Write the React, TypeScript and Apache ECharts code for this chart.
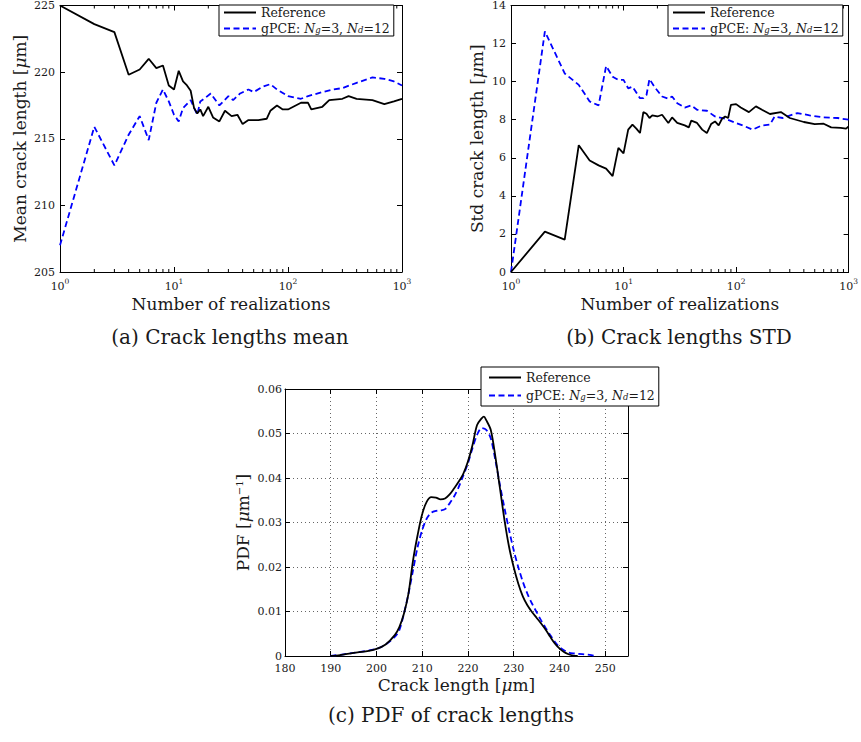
import React, { useEffect, useRef } from 'react';
import * as echarts from 'echarts';

// ---------- data ----------
const meanRefN = [1, 2, 3, 4, 5, 6, 7, 8, 9, 10, 11, 12, 13, 14, 15, 16, 17, 18, 20, 22, 25, 28, 32, 36, 40, 45, 55, 65, 70, 80, 90, 100, 130, 150, 160, 200, 230, 300, 340, 400, 550, 700, 850, 1000];
const meanRef = [225.0, 223.6, 223.0, 219.8, 220.2, 221.0, 220.3, 220.5, 219.0, 218.7, 220.1, 219.3, 219.0, 218.6, 217.3, 216.9, 217.2, 216.7, 217.4, 216.6, 216.3, 217.1, 216.7, 216.8, 216.1, 216.4, 216.4, 216.5, 217.1, 217.5, 217.2, 217.2, 217.7, 217.7, 217.2, 217.4, 217.9, 218.0, 218.2, 218.0, 217.9, 217.6, 217.8, 218.0];

const meanGpceN = [1, 2, 3, 4, 5, 6, 7, 8, 9, 10, 11, 12, 14, 16, 17, 19, 21, 25, 30, 33, 38, 45, 50, 60, 70, 80, 100, 130, 150, 200, 250, 300, 400, 550, 700, 850, 1000];
const meanGpce = [207.0, 215.9, 213.0, 215.3, 216.7, 214.9, 217.7, 218.7, 217.8, 216.8, 216.3, 217.3, 217.9, 216.8, 217.8, 218.1, 218.4, 217.5, 218.2, 217.9, 218.4, 218.7, 218.5, 218.9, 219.1, 218.7, 218.2, 218.0, 218.2, 218.5, 218.7, 218.8, 219.2, 219.6, 219.5, 219.3, 219.0];

const stdRefN = [1, 2, 3, 4, 5, 6, 7, 8, 9, 10, 11, 12, 13, 14, 15, 16, 17, 18, 20, 22, 25, 27, 30, 35, 38, 40, 45, 50, 55, 60, 65, 70, 75, 80, 85, 90, 100, 110, 130, 150, 170, 200, 250, 300, 400, 500, 600, 700, 850, 950, 1000];
const stdRef = [0, 2.12, 1.70, 6.66, 5.86, 5.60, 5.43, 5.04, 6.52, 6.23, 7.48, 7.74, 7.53, 7.30, 8.40, 8.31, 8.09, 8.23, 8.17, 8.26, 7.83, 8.12, 7.83, 7.70, 7.60, 7.95, 7.83, 7.48, 7.30, 7.77, 7.91, 7.70, 8.05, 8.17, 8.09, 8.78, 8.82, 8.64, 8.40, 8.70, 8.52, 8.30, 8.40, 8.09, 7.88, 7.77, 7.79, 7.60, 7.57, 7.53, 7.65];

const stdGpceN = [1, 2, 3, 4, 5, 6, 7, 8, 9, 10, 11, 12, 14, 15, 16, 17, 19, 22, 25, 27, 30, 35, 40, 45, 55, 65, 80, 100, 120, 140, 170, 200, 220, 260, 350, 450, 600, 800, 1000];
const stdGpce = [0, 12.64, 10.43, 9.83, 8.96, 8.75, 10.82, 10.26, 10.09, 10.09, 9.65, 9.74, 9.13, 9.13, 9.30, 10.14, 9.69, 9.22, 9.10, 9.22, 8.87, 8.64, 8.75, 8.52, 8.47, 8.17, 8.05, 7.83, 7.65, 7.48, 7.70, 7.74, 8.17, 8.09, 8.35, 8.23, 8.12, 8.09, 8.00];

const pdfRefX = [190, 192, 195, 198, 200, 202, 204, 205, 206, 207, 208, 209, 210, 211, 212, 213, 214, 215, 216, 217, 218, 219, 220, 221, 222, 223, 223.5, 224, 225, 226, 227, 228, 229, 230, 231, 232, 233, 234, 235, 236, 237, 238, 239, 240, 241, 242, 243, 244];
const pdfRef = [0, 0.0002, 0.0007, 0.0011, 0.0016, 0.0026, 0.0047, 0.0065, 0.0095, 0.014, 0.0215, 0.0272, 0.0319, 0.0347, 0.0357, 0.0356, 0.0352, 0.0354, 0.0363, 0.0377, 0.0392, 0.0410, 0.0437, 0.0474, 0.0519, 0.0534, 0.0538, 0.0530, 0.0508, 0.0448, 0.0377, 0.0305, 0.0245, 0.0200, 0.0163, 0.0134, 0.0114, 0.0099, 0.0086, 0.0073, 0.0059, 0.0043, 0.0028, 0.0017, 0.0009, 0.0004, 0.0001, 0];

const pdfGpceX = [190, 195, 200, 202, 204, 205, 206, 207, 208, 209, 210, 211, 212, 213, 214, 215, 216, 217, 218, 219, 220, 221, 222, 223, 224, 225, 226, 227, 228, 229, 230, 231, 232, 233, 234, 235, 236, 237, 238, 239, 240, 241, 242, 243, 245, 247, 248];
const pdfGpce = [0, 0.0007, 0.0016, 0.0026, 0.0043, 0.0058, 0.0095, 0.014, 0.0193, 0.0245, 0.0283, 0.0309, 0.0322, 0.0326, 0.0327, 0.033, 0.0343, 0.0359, 0.038, 0.0406, 0.0433, 0.0467, 0.0497, 0.0512, 0.0508, 0.0489, 0.044, 0.0384, 0.0332, 0.0283, 0.0238, 0.020, 0.0167, 0.014, 0.0118, 0.0099, 0.008, 0.0063, 0.0047, 0.0032, 0.002, 0.0013, 0.0008, 0.0006, 0.0004, 0.0002, 0];

const logMinorTicks = [2, 3, 4, 5, 6, 7, 8, 9, 20, 30, 40, 50, 60, 70, 80, 90, 200, 300, 400, 500, 600, 700, 800, 900];
const captions = ['(a) Crack lengths mean', '(b) Crack lengths STD', '(c) PDF of crack lengths'];
const seriesNames = ['Reference', 'gPCE'];

// ---------- styles ----------
const FONT = "'DejaVu Serif', 'Liberation Serif', serif";
const TXT = '#1a1a1a';
const BLUE = '#0000ff';

const zip = (xs: number[], ys: number[]) => xs.map((x, i) => [x, ys[i]]);

const logLabel = (v: number) => `{b|10}{s|${Math.round(Math.log10(v))}}`;
const logRich = {
  b: { fontFamily: FONT, fontSize: 11, color: TXT, lineHeight: 15, verticalAlign: 'bottom' },
  s: { fontFamily: FONT, fontSize: 7.5, color: TXT, lineHeight: 9, verticalAlign: 'top' },
};

const axisLine = { show: true, onZero: false, lineStyle: { color: '#000', width: 1 } };
const tick = { show: true, inside: true, length: 5, lineStyle: { color: '#000', width: 1 } };
const tickLabel = { fontFamily: FONT, fontSize: 11, color: TXT, lineHeight: 11 };
const NAME_SIZE = 17;
const nameStyle = {
  fontFamily: FONT, fontSize: NAME_SIZE, color: TXT,
  rich: {
    i: { fontFamily: FONT, fontSize: NAME_SIZE, fontStyle: 'italic', color: TXT },
    sup: { fontFamily: FONT, fontSize: 10, color: TXT, verticalAlign: 'top', lineHeight: 10 },
  },
};

const LEG_SIZE = 12.5;
const legendRich = {
  r: { fontFamily: FONT, fontSize: LEG_SIZE, color: TXT, lineHeight: 12 },
  i: { fontFamily: FONT, fontSize: LEG_SIZE, fontStyle: 'italic', color: TXT, lineHeight: 12 },
  s: { fontFamily: FONT, fontSize: 8.5, fontStyle: 'italic', color: TXT, lineHeight: 8, verticalAlign: 'bottom' },
};
const legendFmt = (name: string) =>
  name === 'Reference' ? '{r|Reference}' : '{r|gPCE: }{i|N}{s|g}{r|=3, }{i|N}{s|d}{r|=12}';

const makeLegend = (left: number, top: number, itemGap: number, padding: number[]) => ({
  left, top, orient: 'vertical', itemWidth: 32, itemHeight: 12, itemGap, padding,
  borderColor: '#000', borderWidth: 1, backgroundColor: '#fff', borderRadius: 0,
  itemStyle: { opacity: 0 },
  data: seriesNames, formatter: legendFmt, selectedMode: false,
  textStyle: { fontFamily: FONT, fontSize: LEG_SIZE, color: TXT, rich: legendRich },
  z: 10,
});

const lineRef = { color: '#000', width: 1.8, type: 'solid' };
const lineGpce = { color: BLUE, width: 1.8, type: [6, 3.5] };

export default function App() {
  const ref = useRef<HTMLDivElement>(null);
  useEffect(() => {
    if (!ref.current) return;
    const chart = echarts.init(ref.current, undefined, { renderer: 'svg' });
    const grids = [
      { left: 60, top: 3, width: 342, height: 269 },
      { left: 511, top: 3, width: 342, height: 269 },
      { left: 285, top: 389, width: 343, height: 267 },
    ];
    const logX = (gi: number, pos: 'bottom' | 'top', withLabel: boolean) => ({
      type: 'log', logBase: 10, gridIndex: gi, min: 1, max: 1000, position: pos,
      axisLine, axisTick: tick, splitLine: { show: false },
      axisLabel: withLabel ? { formatter: logLabel, rich: logRich, margin: 5 } : { show: false },
      ...(withLabel ? { name: 'Number of realizations', nameLocation: 'middle', nameGap: 23, nameTextStyle: nameStyle } : {}),
    });
    const option: any = {
      animation: false,
      backgroundColor: '#fff',
      grid: grids,
      xAxis: [
        logX(0, 'bottom', true),
        logX(0, 'top', false),
        logX(1, 'bottom', true),
        logX(1, 'top', false),
        {
          type: 'value', gridIndex: 2, min: 180, max: 255, interval: 10, position: 'bottom',
          axisLine, axisTick: tick,
          axisLabel: { ...tickLabel, margin: 7, formatter: (v: number) => (v === 255 ? '' : String(v)) },
          splitLine: { show: true, lineStyle: { color: '#666', type: [1, 3], width: 1 } },
          name: 'Crack length [{i|μ}m]', nameLocation: 'middle', nameGap: 20, nameTextStyle: nameStyle,
        },
        {
          type: 'value', gridIndex: 2, min: 180, max: 255, interval: 10, position: 'top',
          axisLine, axisTick: tick, axisLabel: { show: false }, splitLine: { show: false },
        },
      ],
      yAxis: [
        {
          type: 'value', gridIndex: 0, min: 205, max: 225, interval: 5, position: 'left',
          axisLine, axisTick: tick, axisLabel: { ...tickLabel, margin: 5 }, splitLine: { show: false },
          name: 'Mean crack length [{i|μ}m]', nameLocation: 'middle', nameGap: 32, nameTextStyle: nameStyle,
        },
        {
          type: 'value', gridIndex: 0, min: 205, max: 225, interval: 5, position: 'right',
          axisLine, axisTick: tick, axisLabel: { show: false }, splitLine: { show: false },
        },
        {
          type: 'value', gridIndex: 1, min: 0, max: 14, interval: 2, position: 'left',
          axisLine, axisTick: tick, axisLabel: { ...tickLabel, margin: 5 }, splitLine: { show: false },
          name: 'Std crack length [{i|μ}m]', nameLocation: 'middle', nameGap: 26, nameTextStyle: nameStyle,
        },
        {
          type: 'value', gridIndex: 1, min: 0, max: 14, interval: 2, position: 'right',
          axisLine, axisTick: tick, axisLabel: { show: false }, splitLine: { show: false },
        },
        {
          type: 'value', gridIndex: 2, min: 0, max: 0.06, interval: 0.01, position: 'left',
          axisLine, axisTick: tick, axisLabel: { ...tickLabel, margin: 3 },
          splitLine: { show: true, lineStyle: { color: '#666', type: [1, 3], width: 1 } },
          name: 'PDF [{i|μ}m{sup|−1}]', nameLocation: 'middle', nameGap: 34, nameTextStyle: nameStyle,
        },
        {
          type: 'value', gridIndex: 2, min: 0, max: 0.06, interval: 0.01, position: 'right',
          axisLine, axisTick: tick, axisLabel: { show: false }, splitLine: { show: false },
        },
      ],
      legend: [
        makeLegend(219, 5, 3, [1, 4, 1, 4]),
        makeLegend(668, 5, 3, [1, 4, 1, 4]),
        makeLegend(481, 367, 5, [4, 4, 4, 7]),
      ],
      series: [
        { name: 'Reference', type: 'line', xAxisIndex: 0, yAxisIndex: 0, data: zip(meanRefN, meanRef), symbol: 'none', lineStyle: lineRef, itemStyle: { color: '#000' }, z: 3 },
        { name: 'gPCE', type: 'line', xAxisIndex: 0, yAxisIndex: 0, data: zip(meanGpceN, meanGpce), symbol: 'none', lineStyle: lineGpce, itemStyle: { color: BLUE }, z: 2 },
        { name: 'Reference', type: 'line', xAxisIndex: 2, yAxisIndex: 2, data: zip(stdRefN, stdRef), symbol: 'none', lineStyle: lineRef, itemStyle: { color: '#000' }, z: 3 },
        { name: 'gPCE', type: 'line', xAxisIndex: 2, yAxisIndex: 2, data: zip(stdGpceN, stdGpce), symbol: 'none', lineStyle: lineGpce, itemStyle: { color: BLUE }, z: 2 },
        { name: 'Reference', type: 'line', xAxisIndex: 4, yAxisIndex: 4, data: zip(pdfRefX, pdfRef), symbol: 'none', smooth: 0.3, lineStyle: lineRef, itemStyle: { color: '#000' }, z: 3 },
        { name: 'gPCE', type: 'line', xAxisIndex: 4, yAxisIndex: 4, data: zip(pdfGpceX, pdfGpce), symbol: 'none', smooth: 0.3, lineStyle: lineGpce, itemStyle: { color: BLUE }, z: 2 },
      ],
    };
    chart.setOption(option);

    // captions + log-axis minor ticks
    const graphics: any[] = [
      { x: 230, y: 337, text: captions[0] },
      { x: 679, y: 337, text: captions[1] },
      { x: 451, y: 715, text: captions[2] },
    ].map((c) => ({
      type: 'text', x: c.x, y: c.y, silent: true,
      style: { text: c.text, fontFamily: FONT, fontSize: 20, fill: TXT, align: 'center', verticalAlign: 'middle' },
    }));
    const axisPairs = [
      { xi: 0, yi: 0, yMin: 205, yMax: 225 },
      { xi: 2, yi: 2, yMin: 0, yMax: 14 },
    ];
    axisPairs.forEach((p) => {
      const yb = chart.convertToPixel({ yAxisIndex: p.yi }, p.yMin) as number;
      const yt = chart.convertToPixel({ yAxisIndex: p.yi }, p.yMax) as number;
      logMinorTicks.forEach((v) => {
        const x = chart.convertToPixel({ xAxisIndex: p.xi }, v) as number;
        graphics.push({ type: 'line', silent: true, shape: { x1: x, y1: yb, x2: x, y2: yb - 3 }, style: { stroke: '#000', lineWidth: 1 } });
        graphics.push({ type: 'line', silent: true, shape: { x1: x, y1: yt, x2: x, y2: yt + 3 }, style: { stroke: '#000', lineWidth: 1 } });
      });
    });
    chart.setOption({ graphic: graphics });

    return () => chart.dispose();
  }, []);
  return <div ref={ref} style={{ position: 'absolute', left: 0, top: 0, width: 861, height: 742 }} />;
}
